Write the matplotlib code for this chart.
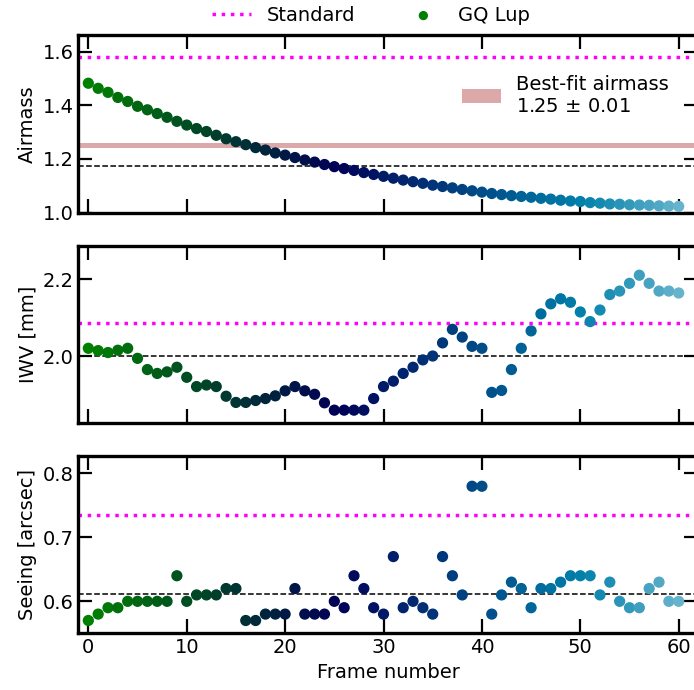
import numpy as np
import matplotlib
matplotlib.use("Agg")
import matplotlib.pyplot as plt

# frame numbers
frames = np.arange(61)

airmass = [1.482, 1.463, 1.448, 1.429, 1.414, 1.396, 1.383, 1.369, 1.355, 1.340,
           1.326, 1.313, 1.302, 1.288, 1.275, 1.264, 1.253, 1.242, 1.233, 1.222,
           1.214, 1.205, 1.196, 1.188, 1.179, 1.171, 1.164, 1.157, 1.149, 1.142,
           1.135, 1.128, 1.121, 1.115, 1.109, 1.102, 1.097, 1.092, 1.086, 1.081,
           1.076, 1.071, 1.067, 1.063, 1.060, 1.057, 1.053, 1.050, 1.046, 1.043,
           1.041, 1.037, 1.035, 1.032, 1.031, 1.029, 1.028, 1.027, 1.025, 1.024,
           1.023]

iwv = [2.021, 2.015, 2.010, 2.016, 2.021, 1.995, 1.966, 1.956, 1.960, 1.972,
       1.946, 1.922, 1.926, 1.922, 1.897, 1.881, 1.881, 1.886, 1.891, 1.898,
       1.911, 1.922, 1.911, 1.902, 1.880, 1.861, 1.861, 1.861, 1.861, 1.891,
       1.922, 1.936, 1.956, 1.972, 1.991, 2.001, 2.035, 2.070, 2.050, 2.026,
       2.021, 1.907, 1.912, 1.966, 2.021, 2.066, 2.110, 2.136, 2.149, 2.140,
       2.115, 2.090, 2.120, 2.160, 2.169, 2.189, 2.210, 2.189, 2.169, 2.169,
       2.164]

seeing = [0.57, 0.58, 0.59, 0.59, 0.60, 0.60, 0.60, 0.60, 0.60, 0.64,
          0.60, 0.61, 0.61, 0.61, 0.62, 0.62, 0.57, 0.57, 0.58, 0.58,
          0.58, 0.62, 0.58, 0.58, 0.58, 0.60, 0.59, 0.64, 0.62, 0.59,
          0.58, 0.67, 0.59, 0.60, 0.59, 0.58, 0.67, 0.64, 0.61, 0.78,
          0.78, 0.58, 0.61, 0.63, 0.62, 0.59, 0.62, 0.62, 0.63, 0.64,
          0.64, 0.64, 0.61, 0.63, 0.60, 0.59, 0.59, 0.62, 0.63, 0.60,
          0.60]

# reference values (standard star) and median lines
standard = {"airmass": 1.580, "iwv": 2.086, "seeing": 0.7354}
median = {"airmass": 1.174, "iwv": 2.0, "seeing": 0.611}
best_fit, best_err = 1.25, 0.01

plt.rcParams["font.size"] = 14

fig, axes = plt.subplots(3, 1, figsize=(6.94, 6.9), dpi=100, sharex=True)
fig.subplots_adjust(left=0.1131, right=1.0063, bottom=0.0822, top=0.9486, hspace=0.188)

panels = [("airmass", airmass, "Airmass", (1.0, 1.66), [1.0, 1.2, 1.4, 1.6]),
          ("iwv", iwv, "IWV [mm]", (1.828, 2.286), [2.0, 2.2]),
          ("seeing", seeing, "Seeing [arcsec]", (0.550, 0.827), [0.6, 0.7, 0.8])]

for ax, (key, vals, label, ylim, yticks) in zip(axes, panels):
    ax.axhline(standard[key], color="magenta", ls=":", lw=2.5, label="Standard")
    ax.axhline(median[key], color="black", ls="--", lw=1.1)
    ax.scatter(frames, vals, c=frames, cmap="ocean", vmin=0, vmax=75, s=50,
               zorder=3, label="GQ Lup")
    ax.set_ylim(*ylim)
    ax.set_yticks(yticks)
    ax.set_ylabel(label, fontsize=14)
    ax.tick_params(direction="in", length=10, width=1.6, top=True, right=True,
                   labelsize=14)
    for sp in ax.spines.values():
        sp.set_linewidth(2.4)

ax0 = axes[0]
band = ax0.axhspan(best_fit - best_err, best_fit + best_err, color="brown", alpha=0.4, lw=0)
ax0.legend([band], ["Best-fit airmass\n%.2f $\\pm$ %.2f" % (best_fit, best_err)],
           loc="upper left", bbox_to_anchor=(0.59, 0.875), frameon=False, fontsize=14)

axes[-1].set_xlim(-1, 62)
axes[-1].set_xticks([0, 10, 20, 30, 40, 50, 60])
axes[-1].set_xlabel("Frame number", fontsize=14)

h, l = ax0.get_legend_handles_labels()
fig.legend(h[:2], l[:2], loc="center", bbox_to_anchor=(0.535, 0.978), ncol=2,
           frameon=False, fontsize=14, columnspacing=2.5, markerscale=0.8)

fig.savefig("out.png", dpi=100)
